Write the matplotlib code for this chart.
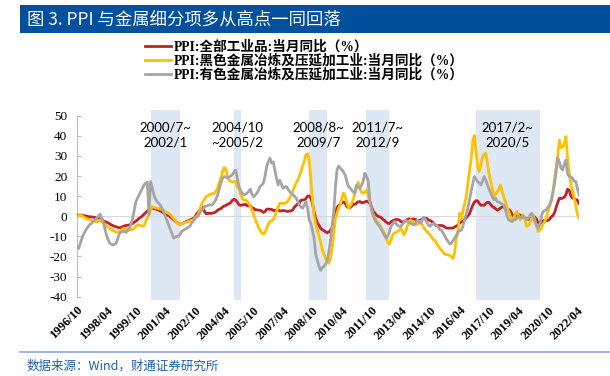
import numpy as np
import pandas as pd
import matplotlib
matplotlib.use('Agg')
import matplotlib.pyplot as plt
from matplotlib.patches import Rectangle
from matplotlib.lines import Line2D

# monthly yoy, 1996/10 .. 2022/05
ppi_all = [
    0.6, 0.5, 0.6,
    0.5, 0.3, 0.2, 0.0, -0.2, -0.3, -0.3, -0.5, -0.6, -0.8, -1.0, -1.3,
    -2.0, -2.3, -2.6, -3.0, -3.3, -3.8, -4.3, -4.7, -5.0, -5.3, -5.6, -5.7,
    -5.5, -5.2, -4.8, -4.6, -4.5, -4.3, -4.0, -3.5, -3.0, -2.4, -1.8, -1.0,
    -0.5, 0.2, 1.0, 1.8, 2.6, 3.3, 3.8, 3.9, 3.8, 3.6, 3.4, 3.0,
    2.6, 2.2, 1.6, 1.2, 0.8, 0.4, -0.3, -0.9, -1.6, -2.3, -3.0, -3.7,
    -4.0, -3.8, -3.4, -3.0, -2.6, -2.3, -1.9, -1.5, -1.1, -0.6, 1.0, 1.8,
    3.2, 4.0, 4.6, 2.3, 1.3, 1.4, 1.5, 1.4, 1.6, 1.8, 2.2, 3.0,
    3.5, 3.8, 4.6, 5.1, 5.4, 5.9, 6.3, 6.8, 7.9, 8.4, 8.1, 7.1,
    5.8, 5.4, 5.6, 5.8, 5.9, 5.2, 5.2, 5.3, 4.0, 4.0, 3.2, 3.2,
    3.0, 3.0, 2.5, 1.9, 2.4, 3.5, 3.6, 3.4, 3.5, 2.9, 2.8, 3.1,
    3.3, 2.6, 2.7, 2.8, 2.8, 2.5, 2.4, 2.6, 2.7, 3.2, 4.6, 5.4,
    6.1, 6.6, 8.0, 8.1, 8.2, 8.8, 10.0, 10.1, 9.1, 6.6, 2.0, -1.1,
    -3.3, -4.5, -6.0, -6.6, -7.2, -7.8, -8.2, -7.9, -7.0, -5.8, -2.1, 1.7,
    4.3, 5.4, 5.9, 6.8, 7.1, 6.4, 4.8, 4.3, 4.3, 5.0, 6.1, 5.9,
    6.6, 7.2, 7.3, 6.8, 6.8, 7.1, 7.5, 7.3, 6.5, 5.0, 2.7, 1.7,
    0.7, 0.0, -0.3, -0.7, -1.4, -2.1, -2.9, -3.5, -3.6, -2.8, -2.2, -1.9,
    -1.6, -1.6, -1.9, -2.6, -2.9, -2.7, -2.3, -1.6, -1.3, -1.5, -1.4, -1.4,
    -1.6, -2.0, -2.3, -2.0, -1.4, -1.1, -0.9, -1.2, -1.8, -2.2, -2.7, -3.3,
    -4.3, -4.8, -4.6, -4.6, -4.6, -4.8, -5.4, -5.9, -5.9, -5.9, -5.9, -5.9,
    -5.3, -4.9, -4.3, -3.4, -2.8, -2.6, -1.7, -0.8, 0.1, 1.2, 3.3, 5.5,
    6.9, 7.8, 7.6, 6.4, 5.5, 5.5, 5.5, 6.3, 6.9, 6.9, 5.8, 4.9,
    4.3, 3.7, 3.1, 3.4, 4.1, 4.7, 4.6, 4.1, 3.6, 3.3, 2.7, 0.9,
    0.1, 0.1, 0.4, 0.9, 0.6, 0.0, -0.3, -0.8, -1.2, -1.6, -1.4, -0.5,
    0.1, -0.4, -1.5, -3.1, -3.7, -3.0, -2.4, -2.0, -2.1, -2.1, -1.5, -0.4,
    0.3, 1.7, 4.4, 6.8, 9.0, 8.8, 9.0, 9.5, 10.7, 13.5, 12.9, 10.3,
    9.1, 8.8, 8.3, 8.0, 6.4,
]

ferrous = [
    -0.5, 0.3, 0.7,
    0.2, -0.3, -0.8, -1.2, -1.5, -1.8, -2.0, -2.3, -2.6, -2.8, -2.5, -1.8,
    -2.5, -3.3, -4.0, -4.8, -5.5, -6.0, -6.5, -7.0, -7.6, -8.0, -7.8, -7.6,
    -7.0, -6.2, -6.0, -6.5, -7.0, -6.8, -6.8, -6.5, -6.0, -5.0, -4.5, -4.3,
    -4.6, -5.0, -4.8, -2.6, -1.0, 0.7, 3.0, 4.8, 4.5, 4.2, 4.0, 3.8,
    3.6, 3.4, 3.0, 2.4, 1.8, 1.5, 0.8, 0.0, -1.0, -2.0, -3.0, -4.0,
    -4.2, -3.8, -3.5, -3.2, -3.0, -2.6, -2.4, -2.0, -1.8, -1.0, 0.0, 0.7,
    3.0, 5.5, 7.3, 8.5, 9.8, 10.2, 10.7, 11.0, 11.3, 11.5, 12.5, 14.0,
    17.0, 19.0, 22.0, 24.3, 23.5, 20.0, 18.0, 17.5, 17.0, 17.2, 17.3, 14.5,
    14.0, 11.0, 9.0, 8.0, 8.0, 7.5, 6.5, 5.0, 3.0, 1.0, -1.5, -3.5,
    -5.5, -7.0, -8.4, -8.9, -8.0, -6.0, -4.0, -2.6, -2.2, -1.8, 0.0, 2.4,
    4.5, 6.5, 6.5, 6.5, 6.3, 6.8, 7.7, 9.0, 10.7, 12.5, 14.8, 16.5,
    18.0, 20.0, 22.3, 25.0, 27.5, 30.6, 31.0, 28.0, 19.0, 8.0, 0.0, -4.0,
    -7.0, -10.0, -13.0, -16.5, -19.0, -21.0, -22.5, -23.5, -21.0, -16.0, -9.0, -1.5,
    1.5, 4.0, 5.7, 9.0, 11.5, 10.0, 7.0, 4.0, 5.0, 6.5, 8.5, 11.5,
    14.5, 17.0, 13.5, 12.0, 11.5, 12.0, 13.0, 11.0, 7.5, 4.0, 1.0, -0.5,
    -2.0, -3.0, -4.3, -5.5, -7.0, -8.4, -10.5, -13.0, -14.0, -12.0, -9.5, -8.4,
    -8.0, -7.6, -7.0, -6.0, -7.5, -9.3, -7.5, -5.0, -3.0, -1.8, -2.5, -3.8,
    -4.3, -4.0, -3.5, -2.5, -4.0, -5.5, -6.8, -7.5, -8.5, -9.3, -10.5, -11.8,
    -12.0, -13.5, -15.0, -16.0, -17.0, -18.0, -19.0, -19.0, -19.3, -19.5, -20.5, -21.0,
    -17.6, -11.0, -8.0, 1.5, -1.0, 2.4, 6.0, 9.5, 16.0, 22.0, 28.0, 37.2,
    40.2, 32.2, 25.0, 22.3, 26.0, 29.5, 31.0, 31.4, 26.5, 21.0, 17.3, 14.0,
    10.0, 11.0, 12.3, 13.5, 15.6, 12.3, 9.5, 7.3, 4.5, 2.4, 0.0, -1.8,
    -1.0, 1.0, 2.4, 0.5, -1.8, -0.5, 0.7, -2.0, -5.0, -4.5, -3.5, -1.0,
    0.7, -2.0, -5.0, -7.6, -7.0, -6.0, -4.0, -2.6, -1.0, 2.4, 4.5, 7.3,
    12.0, 18.0, 24.0, 30.0, 38.0, 34.0, 34.5, 36.0, 39.7, 29.0, 22.0, 16.0,
    13.0, 9.0, 5.5, 1.0, -1.0,
]

nonferrous = [
    -15.0, -16.0, -13.5,
    -11.0, -9.0, -7.5, -6.0, -5.0, -4.0, -3.5, -2.5, -1.8, -1.0, 0.0, 1.0,
    -0.5, -2.6, -6.0, -9.3, -11.5, -13.4, -14.0, -14.3, -14.0, -13.4, -11.0, -8.4,
    -8.0, -7.6, -7.6, -8.0, -7.0, -6.0, -4.0, -1.0, 3.0, 7.3, 9.0, 10.7,
    12.5, 14.0, 15.6, 16.5, 17.0, 0.7, 17.3, 14.0, 10.7, 8.5, 7.3, 6.5,
    5.5, 4.0, 2.0, 0.0, -2.0, -4.3, -6.5, -8.4, -10.9, -10.5, -10.0, -10.0,
    -9.0, -7.6, -7.0, -6.5, -6.0, -5.5, -5.0, -3.5, -2.5, -1.5, -0.5, 0.0,
    1.5, 2.7, 3.5, 4.9, 5.0, 5.3, 5.7, 5.5, 6.0, 7.0, 8.5, 10.7,
    13.5, 16.5, 19.0, 19.8, 19.5, 19.0, 19.5, 20.0, 20.6, 22.0, 23.0, 19.0,
    15.0, 13.0, 11.5, 10.7, 11.0, 11.5, 12.3, 13.5, 11.0, 9.8, 10.5, 11.5,
    13.0, 14.8, 15.5, 16.5, 20.0, 24.8, 27.2, 28.9, 26.5, 27.0, 23.1, 19.0,
    15.6, 18.0, 16.0, 14.0, 14.5, 14.8, 13.5, 12.3, 11.5, 10.7, 10.0, 9.0,
    7.5, 5.7, 4.5, 4.0, 5.7, 7.3, 4.0, -1.8, -3.5, -7.0, -11.0, -19.0,
    -22.0, -25.0, -27.0, -25.5, -25.0, -24.0, -22.0, -17.6, -12.0, -5.0, 2.0, 14.0,
    23.0, 25.0, 24.0, 23.1, 22.0, 20.6, 17.5, 14.8, 14.0, 13.0, 12.0, 11.5,
    15.6, 14.5, 14.0, 15.5, 17.3, 21.4, 20.0, 18.0, 9.0, 4.0, 0.7, -1.5,
    -3.0, -4.0, -5.0, -6.5, -8.0, -9.5, -10.9, -10.0, -8.0, -5.0, -4.0, -2.6,
    -3.5, -4.5, -5.0, -5.0, -4.0, -3.0, -2.0, -2.5, -3.0, -3.5, -4.0, -4.3,
    -3.5, -2.0, -2.5, -3.5, -2.0, -0.5, -1.5, -3.0, -4.5, -5.0, -4.0, -3.5,
    -4.0, -4.5, -5.5, -6.8, -7.0, -8.5, -10.0, -11.5, -12.5, -13.9, -13.5, -12.0,
    -10.9, -9.5, -7.6, -7.3, -7.0, -5.0, -1.8, 1.0, 4.0, 8.0, 12.3, 16.0,
    19.8, 18.5, 17.3, 16.5, 15.6, 17.5, 19.8, 18.0, 15.6, 13.5, 11.5, 9.5,
    8.2, 9.0, 7.3, 7.0, 6.5, 6.0, 5.7, 3.0, 0.0, -1.8, -2.2, -2.6,
    -2.0, -1.8, -1.0, 0.0, -0.5, -1.0, 0.0, -0.5, -1.8, -1.0, 0.5, 1.5,
    0.0, -2.6, -4.5, -6.0, -4.3, 0.0, 2.4, 2.8, 3.2, 4.5, 5.7, 8.0,
    11.5, 16.0, 22.0, 29.0, 27.0, 24.0, 23.1, 26.0, 28.0, 21.0, 19.8, 19.5,
    19.0, 17.5, 17.3, 14.0, 10.7,
]

series_names = ['PPI:全部工业品:当月同比（%）',
                'PPI:黑色金属冶炼及压延加工业:当月同比（%）',
                'PPI:有色金属冶炼及压延加工业:当月同比（%）']
colors = ['#C42026', '#FFC000', '#A5A5A5']

periods = [('2000-07', '2002-01'), ('2004-10', '2005-02'), ('2008-08', '2009-07'),
           ('2011-07', '2012-09'), ('2017-02', '2020-05')]
period_labels = ['2000/7~\n2002/1', '2004/10\n~2005/2', '2008/8~\n2009/7',
                 '2011/7~\n2012/9', '2017/2~\n2020/5']

title = '图 3. PPI 与金属细分项多从高点一同回落'
source = '数据来源：Wind，财通证券研究所'

months = pd.period_range('1996-10', periods=len(ppi_all), freq='M')
x = np.arange(len(months))

W, H = 610, 376
fig = plt.figure(figsize=(W / 100, H / 100), dpi=100)

# title bar
fig.patches.append(Rectangle((20 / W, 1 - 33 / H), 590 / W, 28 / H,
                             transform=fig.transFigure, color='#00509E', lw=0))
fig.text(27 / W, 1 - 19.5 / H, title, color='white', fontsize=12.5,
         family=['Noto Sans CJK SC'], weight='medium', va='center')

ax = fig.add_axes([77 / W, 1 - 300 / H, 502 / W, 190 / H])

for (s, e), txt in zip(periods, period_labels):
    i0 = (pd.Period(s, 'M') - months[0]).n
    i1 = (pd.Period(e, 'M') - months[0]).n
    ax.axvspan(i0, i1, color='#DDE8F4', lw=0, zorder=0)
    ax.text((i0 + i1) / 2, 40.5, txt, ha='center', va='center', fontsize=9.5,
            family='Lato', linespacing=1.25, zorder=5)

ax.axhline(0, color='#D9D9D9', lw=0.8, zorder=1)

handles = []
for ys, c in zip([ppi_all, ferrous, nonferrous], colors):
    ln, = ax.plot(x, ys, color=c, lw=2.0, zorder=3)
    handles.append(ln)

ax.set_xlim(0, len(months) - 1)
ax.set_ylim(-41.7, 52.9)
ax.set_yticks(np.arange(-40, 51, 10))
ax.set_yticklabels([str(v) for v in range(-40, 51, 10)], family='Liberation Serif', fontsize=9.5)
ax.tick_params(axis='y', direction='in', length=3, color='#BFBFBF', pad=7)

tick_idx = x[::18]
ax.set_xticks(tick_idx)
ax.set_xticklabels([months[i].strftime('%Y/%m') for i in tick_idx], rotation=45,
                   ha='right', rotation_mode='anchor', family='Liberation Serif',
                   fontsize=9, weight='bold')
ax.tick_params(axis='x', length=0, pad=3)

for sp in ['top', 'right', 'bottom']:
    ax.spines[sp].set_visible(False)
ax.spines['left'].set_bounds(-40, 50)
ax.spines['left'].set_color('#BFBFBF')
ax.spines['left'].set_linewidth(0.8)
ax.patch.set_alpha(0)

fig.legend(handles, series_names, loc='upper left', bbox_to_anchor=(145 / W, 1 - 40 / H),
           frameon=False, handlelength=1.9, handletextpad=0.2, labelspacing=0.05,
           borderpad=0, borderaxespad=0,
           prop={'family': ['Liberation Serif', 'Noto Sans CJK SC'], 'weight': 'bold', 'size': 9.8})

# source line and note
fig.add_artist(Line2D([20 / W, 1], [1 - 351.5 / H] * 2, transform=fig.transFigure,
                      color='#8EAADB', lw=1.2))
fig.text(27 / W, 1 - 366 / H, source, color='#1F5FAD', fontsize=9,
         family=['Noto Sans CJK SC'], va='center')

fig.savefig('out.png', dpi=100)
